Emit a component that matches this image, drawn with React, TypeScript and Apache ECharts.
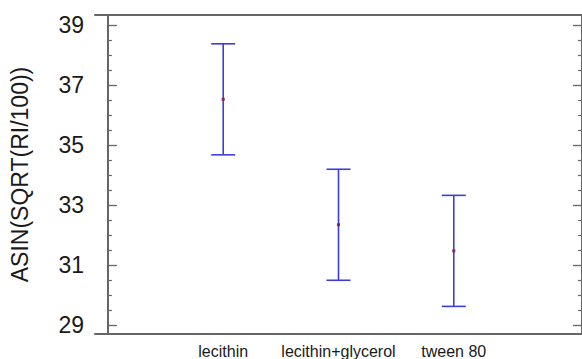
import React, { useEffect, useRef } from "react";
import * as echarts from "echarts";

// Group means with their 95% interval bounds
const categories = ["lecithin", "lecithin+glycerol", "tween 80"];
const means = [36.52, 32.34, 31.47];
const lowerBounds = [34.67, 30.49, 29.62];
const upperBounds = [38.37, 34.19, 33.32];

// Y axis: labelled major ticks and unlabelled minor ticks
const yMajorTicks = [29, 31, 33, 35, 37, 39];
const yMinorTicks = [29.5, 30, 30.5, 31.5, 32, 32.5, 33.5, 34, 34.5, 35.5, 36, 36.5, 37.5, 38, 38.5];
const yMin = 28.7;
const yMax = 39.33;
const xMin = -0.112;
const xMax = 4.112;

const AXIS_COLOR = "#666";
const TEXT_COLOR = "#1a1a1a";
const BAR_COLOR = "#3d3ddd";
const MEAN_COLOR = "#8a2452";
const FONT = "'Liberation Sans', Arial, sans-serif";

export default function App() {
  const ref = useRef<HTMLDivElement>(null);

  useEffect(() => {
    if (!ref.current) return;
    const chart = echarts.init(ref.current, undefined, { renderer: "svg" });

    const baseY = {
      type: "value" as const,
      min: yMin,
      max: yMax,
      splitLine: { show: false },
    };

    chart.setOption({
      animation: false,
      backgroundColor: "#fff",
      grid: { left: 94, top: 15, width: 489, height: 322 },
      xAxis: [
        {
          type: "value",
          min: xMin,
          max: xMax,
          position: "bottom",
          splitLine: { show: false },
          axisLine: { show: true, lineStyle: { color: AXIS_COLOR, width: 2 } },
          axisTick: { show: false },
          axisLabel: {
            customValues: categories.map((_, i) => i + 1),
            formatter: (v: number) => categories[Math.round(v) - 1] ?? "",
            color: TEXT_COLOR,
            fontFamily: FONT,
            fontSize: 16,
            margin: 9,
          },
        },
        {
          type: "value",
          min: xMin,
          max: xMax,
          position: "top",
          splitLine: { show: false },
          axisLine: { show: true, lineStyle: { color: AXIS_COLOR, width: 2 } },
          axisTick: { show: false },
          axisLabel: { show: false },
        },
      ],
      yAxis: [
        {
          ...baseY,
          position: "left",
          name: "ASIN(SQRT(RI/100))",
          nameLocation: "middle",
          nameGap: 64,
          nameTextStyle: { color: TEXT_COLOR, fontFamily: FONT, fontSize: 23 },
          axisLine: { show: true, lineStyle: { color: AXIS_COLOR, width: 2 } },
          axisTick: {
            show: true,
            inside: true,
            length: 9,
            customValues: yMajorTicks,
            lineStyle: { color: AXIS_COLOR, width: 1.3 },
          },
          axisLabel: {
            customValues: yMajorTicks,
            color: TEXT_COLOR,
            fontFamily: FONT,
            fontSize: 23,
            margin: 11,
          },
        },
        {
          ...baseY,
          position: "left",
          axisLine: { show: false },
          axisTick: {
            show: true,
            inside: true,
            length: 4,
            customValues: yMinorTicks,
            lineStyle: { color: AXIS_COLOR, width: 1.2 },
          },
          axisLabel: { show: false },
        },
        {
          ...baseY,
          position: "right",
          axisLine: { show: true, lineStyle: { color: AXIS_COLOR, width: 2 } },
          axisTick: {
            show: true,
            inside: true,
            length: 9,
            customValues: yMajorTicks,
            lineStyle: { color: AXIS_COLOR, width: 1.3 },
          },
          axisLabel: { show: false },
        },
        {
          ...baseY,
          position: "right",
          axisLine: { show: false },
          axisTick: {
            show: true,
            inside: true,
            length: 4,
            customValues: yMinorTicks,
            lineStyle: { color: AXIS_COLOR, width: 1.2 },
          },
          axisLabel: { show: false },
        },
      ],
      series: [
        {
          type: "custom",
          xAxisIndex: 0,
          yAxisIndex: 0,
          data: categories.map((_, i) => [i + 1, lowerBounds[i], upperBounds[i], means[i]]),
          renderItem: (_params: any, api: any) => {
            const x = api.value(0);
            const lo = api.coord([x, api.value(1)]);
            const hi = api.coord([x, api.value(2)]);
            const mid = api.coord([x, api.value(3)]);
            const cap = 12;
            const line = { stroke: BAR_COLOR, lineWidth: 1.6 };
            return {
              type: "group",
              children: [
                { type: "line", shape: { x1: hi[0], y1: hi[1], x2: lo[0], y2: lo[1] }, style: line },
                { type: "line", shape: { x1: hi[0] - cap, y1: hi[1], x2: hi[0] + cap, y2: hi[1] }, style: line },
                { type: "line", shape: { x1: lo[0] - cap, y1: lo[1], x2: lo[0] + cap, y2: lo[1] }, style: line },
                {
                  type: "rect",
                  shape: { x: mid[0] - 1.5, y: mid[1] - 1.5, width: 3, height: 3 },
                  style: { fill: MEAN_COLOR },
                },
              ],
            };
          },
        },
      ],
    });

    return () => chart.dispose();
  }, []);

  return (
    <div
      ref={ref}
      style={{ position: "fixed", left: 0, top: 0, width: 582, height: 359, background: "#fff" }}
    />
  );
}
